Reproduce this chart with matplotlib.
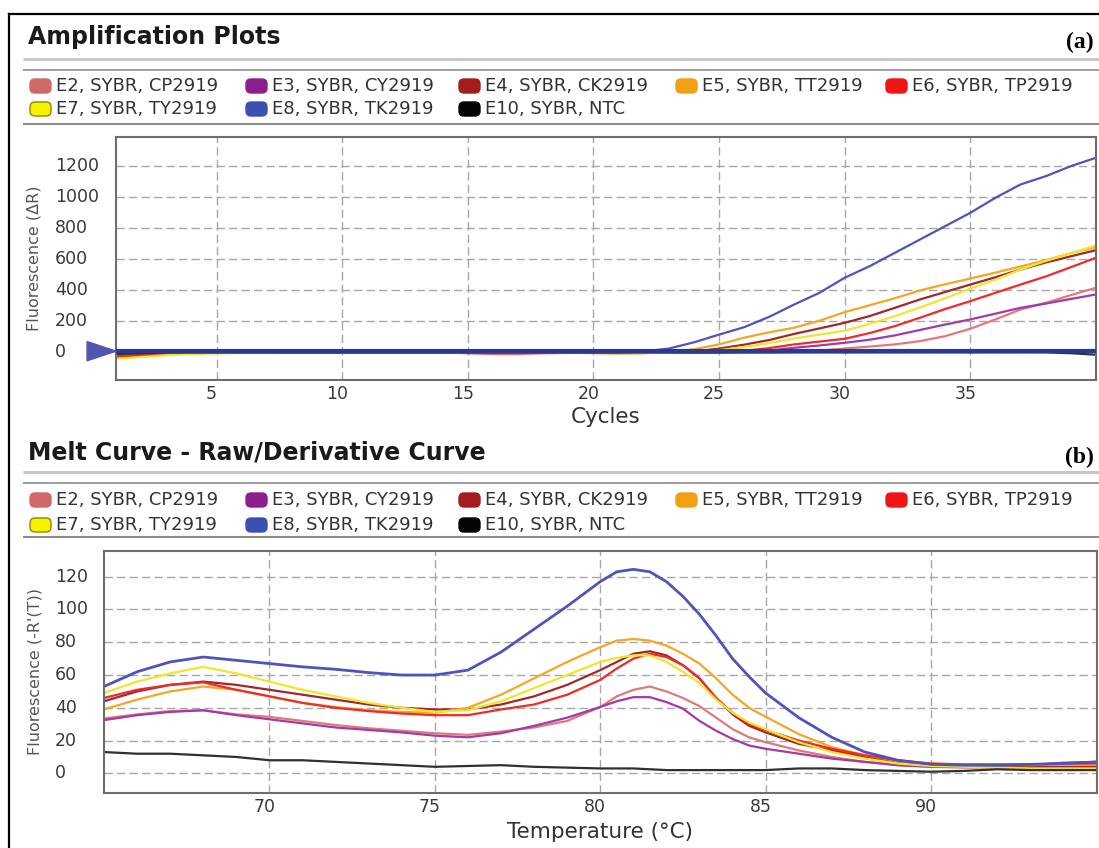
import matplotlib
matplotlib.use("Agg")
import matplotlib.pyplot as plt
import matplotlib.transforms as mtransforms
from matplotlib.patches import FancyBboxPatch, Polygon
from matplotlib.lines import Line2D

W, H = 1099, 848

# ---- data ----
labels = ["E2, SYBR, CP2919", "E3, SYBR, CY2919", "E4, SYBR, CK2919",
          "E5, SYBR, TT2919", "E6, SYBR, TP2919", "E7, SYBR, TY2919",
          "E8, SYBR, TK2919", "E10, SYBR, NTC"]
line_colors = ["#e07a7a", "#a23aa8", "#a02828", "#f5a623",
               "#f02a2a", "#f0e62a", "#4f55b8", "#303030"]
marker_colors = ["#d06868", "#8c1f8c", "#a51c1c", "#f0a010",
                 "#ee1515", "#f8f000", "#3c50b4", "#050505"]

cycles = list(range(1, 41))
amp_e2 = [-25, -15, -8, -4, -2, -1, 0, 0, 0, 0, 0, 0, 0, 0, 0, 0, 0, 0, 0, 0,
          0, 0, 0, 0, 0, 0, 0, 3, 12, 25, 38, 52, 73, 105, 153, 213, 277, 320, 370, 417]
amp_e3 = [-20, -12, -6, -3, -1, 0, 0, 0, 0, 0, 0, 0, 0, 0, 0, 0, 0, 0, 0, 0,
          0, 0, 0, 0, 0, 3, 12, 30, 45, 62, 82, 110, 145, 180, 213, 250, 288, 315, 345, 374]
amp_e4 = [-30, -20, -10, -5, -2, 0, 0, 0, 0, 0, 0, 0, 0, 0, 0, 0, 0, 0, 0, 0,
          0, 0, 0, 5, 25, 50, 80, 120, 155, 191, 235, 288, 342, 390, 438, 485, 535, 580, 620, 660]
amp_e5 = [-20, -12, -6, -3, -1, 0, 0, 0, 0, 0, 0, 0, 0, 0, 0, 0, 0, 0, 0, -5,
          -8, -6, 3, 20, 52, 95, 130, 160, 205, 260, 305, 350, 400, 440, 477, 515, 555, 595, 640, 680]
amp_e6 = [-25, -15, -8, -4, -2, 0, 0, 0, 0, 0, 0, 0, 0, 0, -5, -8, -8, -5, -3, -2,
          -1, 0, 0, 0, 3, 10, 28, 52, 70, 88, 125, 170, 224, 280, 331, 385, 438, 490, 550, 611]
amp_e7 = [-40, -30, -18, -10, -6, -4, -2, 0, 0, 0, 0, 0, 0, 0, 0, 0, 0, 0, 0, 0,
          0, 0, 0, 3, 15, 35, 60, 90, 115, 140, 185, 234, 290, 350, 411, 470, 535, 590, 640, 690]
amp_e8 = [-5, 0, 0, 0, 0, 0, 0, 0, 0, 0, 0, 0, 0, 0, 0, 0, 0, 0, 0, 0,
          0, 6, 25, 65, 115, 163, 230, 310, 385, 482, 557, 643, 729, 815, 901, 998, 1084, 1137, 1202, 1256]
amp_ntc = [-10, -5, 0, 0, 0, 0, 0, 0, 0, 0, 0, 0, 0, 0, 0, 0, 0, 0, 0, 0,
           0, 0, 0, 0, 0, 0, 0, 0, 0, 0, 0, 0, 0, 0, 0, 0, 0, 0, -5, -15]
threshold = 8

temps = [65, 66, 67, 68, 69, 70, 71, 72, 73, 74, 75, 76, 77, 78, 79, 80,
         80.5, 81, 81.5, 82, 82.5, 83, 83.5, 84, 84.5, 85,
         86, 87, 88, 89, 90, 91, 92, 93, 94, 95]
melt_e2 = [33.5, 36, 38, 38.5, 36, 34.5, 32, 29.5, 27.5, 26, 24.5, 23.5, 25.5, 28, 32, 40.5,
           47, 51, 53, 50, 46, 41, 34, 27, 22, 19,
           14, 10, 7, 5, 4, 3.5, 3.5, 3.5, 4, 4]
melt_e3 = [32.5, 35.5, 37.5, 38.5, 35.5, 33, 30.5, 28, 26.5, 25, 23, 22, 24.5, 29, 34, 40.5,
           44, 46.5, 46.5, 43.5, 39.5, 32, 26, 21, 17, 15,
           12, 9, 7, 5, 4, 4, 4.5, 5, 6.5, 7]
melt_e4 = [44, 50, 54, 56, 54, 51, 48, 45, 42, 40, 39, 39, 42, 47, 54, 63,
           68, 73, 74.5, 72, 66, 58, 46, 36, 29, 25,
           18, 14, 10, 7, 5, 4, 4, 4, 4, 4]
melt_e5 = [39, 45, 50, 53, 51, 47, 43, 40.5, 38.5, 37.5, 37, 40, 48, 58, 68, 77,
           81, 82, 81, 78, 73, 67, 58, 48, 40, 34.5,
           24, 16, 11, 7.5, 6, 5, 5, 5, 5.5, 6]
melt_e6 = [46, 51, 54, 55.5, 51, 47, 43, 40, 38, 36.5, 35.5, 35.5, 39, 42, 48, 57,
           64, 70, 73, 71, 66, 58, 46, 37, 30, 26.5,
           20, 15, 11, 8, 6, 5.5, 5.5, 5.5, 6, 6]
melt_e7 = [49, 56, 61, 65, 61, 56, 51, 47, 43, 40, 37.5, 38.5, 44, 52, 60, 68,
           70.5, 72, 72, 68, 62, 55, 45, 37, 31, 27,
           19, 13, 9, 6, 4.5, 4, 3.5, 3, 3, 3]
melt_e8 = [53, 62, 68, 71, 69, 67, 65, 63.5, 61.5, 60, 60, 63, 74, 88, 102, 117,
           123, 124.5, 123, 117, 108, 97, 84, 70, 59, 49,
           34, 22, 13, 8, 5.5, 5, 5, 5.5, 6, 7]
melt_ntc = [13, 12, 12, 11, 10, 8, 8, 7, 6, 5, 4, 4.5, 5, 4, 3.5, 3,
            3, 3, 2.5, 2, 2, 2, 2, 2, 2, 2,
            3, 3, 2, 1.5, 1, 1.5, 2.5, 2, 2, 2]

amp_series = [amp_e2, amp_e3, amp_e4, amp_e5, amp_e6, amp_e7, amp_e8, amp_ntc]
melt_series = [melt_e2, melt_e3, melt_e4, melt_e5, melt_e6, melt_e7, melt_e8, melt_ntc]

plt.rcParams['font.family'] = ['DejaVu Sans']

fig = plt.figure(figsize=(W / 100, H / 100), dpi=100)
fig.patch.set_facecolor("white")
ident = mtransforms.IdentityTransform()


def fx(x):
    return x / W


def fy(y):
    return 1 - y / H


def hline(y, x0, x1, color, lw):
    fig.add_artist(Line2D([fx(x0), fx(x1)], [fy(y), fy(y)], transform=fig.transFigure,
                          color=color, lw=lw, solid_capstyle="butt"))


# outer border (top and left)
fig.add_artist(Line2D([fx(9), fx(W)], [fy(14), fy(14)], transform=fig.transFigure, color="black", lw=1.6))
fig.add_artist(Line2D([fx(9), fx(9)], [fy(14), fy(H)], transform=fig.transFigure, color="black", lw=1.6))


def header(title, tag, ty, sep1, sep2, sep3, rows):
    fig.text(fx(28), fy(ty), title, fontsize=17, fontweight="bold", color="#1a1a1a",
             ha="left", va="center")
    fig.text(fx(1094), fy(ty + 5), tag, fontsize=17, fontweight="bold", color="black",
             ha="right", va="center", family=["Liberation Serif", "DejaVu Serif"])
    hline(sep1, 23, W, "#c8c8c8", 2.2)
    hline(sep2, 23, W, "#8c8c8c", 1.2)
    hline(sep3, 23, W, "#8c8c8c", 1.5)
    col_x = [30, 246, 459, 676, 886]
    for i, lab in enumerate(labels):
        r, c = divmod(i, 5)
        x = col_x[c]
        y = rows[r]
        edge = "#8a8a00" if i == 5 else marker_colors[i]
        box = FancyBboxPatch((x + 3, H - y - 4), 15, 8, boxstyle="round,pad=3,rounding_size=5",
                             transform=ident, facecolor=marker_colors[i], edgecolor=edge, lw=1)
        fig.add_artist(box)
        fig.text(fx(x + 26), fy(y), lab, fontsize=13, color="#333333", ha="left", va="center")


header("Amplification Plots", "(a)", 37, 59, 70, 124, [86, 109])
header("Melt Curve - Raw/Derivative Curve", "(b)", 452, 472, 483, 537, [500, 525])


def style_axes(ax, ypad):
    for s in ax.spines.values():
        s.set_color("#6e6e6e")
        s.set_linewidth(1.5)
    ax.grid(True, color="#a8a8a8", lw=1, linestyle=(0, (6, 3)))
    ax.set_axisbelow(True)
    ax.tick_params(length=0, labelsize=12.5, labelcolor="#3a3a3a")
    ax.tick_params(axis="y", pad=ypad)
    for lab in ax.get_yticklabels():
        lab.set_horizontalalignment("left")
    shift_x = mtransforms.ScaledTranslation(-5 / 100, 0, fig.dpi_scale_trans)
    for lab in ax.get_xticklabels():
        lab.set_transform(lab.get_transform() + shift_x)
    shift_y = mtransforms.ScaledTranslation(0, 2 / 100, fig.dpi_scale_trans)
    for lab in ax.get_yticklabels():
        lab.set_transform(lab.get_transform() + shift_y)


# ---- (a) amplification ----
ax1 = fig.add_axes([fx(116), fy(380), (1096 - 116) / W, (380 - 137) / H])
ax1.set_xlim(1, 40)
ax1.set_ylim(-178, 1390)
ax1.set_xticks([5, 10, 15, 20, 25, 30, 35])
ax1.set_yticks([0, 200, 400, 600, 800, 1000, 1200])
for vals, col in zip(amp_series, line_colors):
    ax1.plot(cycles, vals, color=col, lw=1.6)
ax1.axhline(threshold, color="#2b3a8f", lw=3, zorder=5)
tri_tr = mtransforms.blended_transform_factory(ax1.transAxes, ax1.transData)
tri = Polygon([(0, threshold), (-0.0295, threshold + 62), (-0.0295, threshold - 62)],
              closed=True, transform=tri_tr, clip_on=False, facecolor="#5055b0",
              edgecolor="#5055b0", zorder=6)
ax1.add_patch(tri)
ax1.set_xlabel("Cycles", fontsize=15.5, color="#333333")
ax1.xaxis.set_label_coords(0.5, -0.151)
ax1.xaxis.label.set_va("center")
ax1.set_ylabel("Fluorescence (ΔR)", fontsize=11.5, color="#555555")
ax1.yaxis.set_label_coords(-0.0834, 0.5)
ax1.yaxis.label.set_va("center")
style_axes(ax1, 61 * 0.72)

# ---- (b) melt curve ----
ax2 = fig.add_axes([fx(104), fy(792.7), (1096.5 - 104) / W, (792.7 - 551) / H])
ax2.set_xlim(65, 95)
ax2.set_ylim(-11.8, 135.7)
ax2.set_xticks([70, 75, 80, 85, 90])
ax2.set_yticks([0, 20, 40, 60, 80, 100, 120])
for vals, col in zip(melt_series, line_colors):
    lw = 2.0 if col == "#4f55b8" else 1.6
    ax2.plot(temps, vals, color=col, lw=lw)
ax2.set_xlabel("Temperature (°C)", fontsize=15.5, color="#333333")
ax2.xaxis.set_label_coords(0.5, -0.161)
ax2.xaxis.label.set_va("center")
ax2.set_ylabel("Fluorescence (-R'(T))", fontsize=11.5, color="#555555")
ax2.yaxis.set_label_coords(-0.0695, 0.5)
ax2.yaxis.label.set_va("center")
style_axes(ax2, 49 * 0.72)

fig.savefig("out.png", dpi=100)
